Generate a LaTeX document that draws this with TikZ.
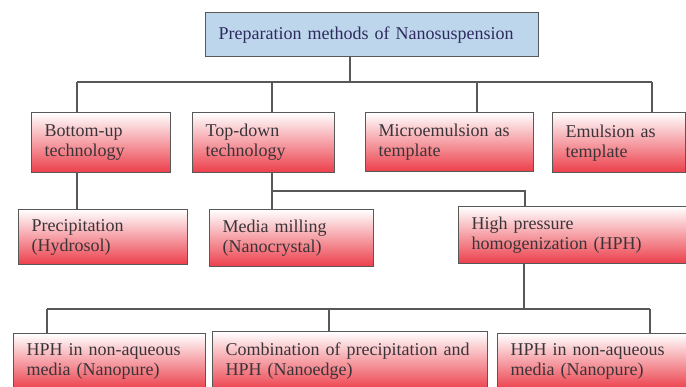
\documentclass[tikz,border=0pt]{standalone}
\usepackage{fontspec}
\setmainfont{Liberation Serif}

\definecolor{boxred}{RGB}{236,62,74}
\definecolor{rootblue}{RGB}{190,214,236}
\definecolor{linegray}{RGB}{88,88,88}
\definecolor{textgray}{RGB}{58,52,56}

\tikzset{
  methodbox/.style={rectangle, draw=linegray, line width=1.4pt, anchor=north west,
    align=left, inner xsep=13pt, inner ysep=0pt, text=textgray,
    font=\fontsize{18}{20}\selectfont,
    top color=white, middle color=boxred!22!white, bottom color=boxred},
  rootbox/.style={methodbox, fill=rootblue, top color=rootblue, bottom color=rootblue,
    middle color=rootblue, text=textgray!80!blue},
  link/.style={draw=linegray, line width=1.3pt}
}

\begin{document}
\begin{tikzpicture}[x=1pt, y=-1pt]
  \useasboundingbox (0,0) rectangle (686,387);
  \clip (0,0) rectangle (686,387);

  % top level
  \node[rootbox, text width=307pt, minimum height=44pt] (root) at (205,12)
    {Preparation methods of Nanosuspension};

  % second level
  \node[methodbox, text width=113pt, minimum height=60pt] (bu) at (31,112)
    {Bottom-up\\technology};
  \node[methodbox, text width=116pt, minimum height=60pt] (td) at (192,112)
    {Top-down\\technology};
  \node[methodbox, text width=142pt, minimum height=59pt] (me) at (365,112)
    {Microemulsion as\\template};
  \node[methodbox, text width=107pt, minimum height=60pt] (em) at (552,112)
    {Emulsion as\\template};

  % third level
  \node[methodbox, text width=143pt, minimum height=55pt] (pr) at (18,209)
    {Precipitation\\(Hydrosol)};
  \node[methodbox, text width=138pt, minimum height=57pt] (mm) at (209,209)
    {Media milling\\(Nanocrystal)};
  \node[methodbox, text width=206pt, minimum height=57pt] (hph) at (458,206)
    {High pressure\\homogenization (HPH)};

  % fourth level
  \node[methodbox, text width=166pt, minimum height=56pt] (n1) at (13,333)
    {HPH in non-aqueous\\media (Nanopure)};
  \node[methodbox, text width=249pt, minimum height=59pt] (n2) at (212,331)
    {Combination of precipitation and\\HPH (Nanoedge)};
  \node[methodbox, text width=167pt, minimum height=56pt] (n3) at (497,333)
    {HPH in non-aqueous\\media (Nanopure)};

  % bus points
  \coordinate (t0) at (350,82);
  \coordinate (t1) at (77,82);
  \coordinate (t2) at (272,82);
  \coordinate (t3) at (477,82);
  \coordinate (t4) at (652,82);
  \coordinate (m1) at (272,191);
  \coordinate (m2) at (525,191);
  \coordinate (h0) at (524,309);
  \coordinate (h1) at (47,309);
  \coordinate (h2) at (329,309);
  \coordinate (h3) at (650,309);

  \draw[link] (root.south -| t0) -- (t0);
  \draw[link] (t1) -- (t4);
  \foreach \b/\t in {bu/t1, td/t2, me/t3, em/t4}
    \draw[link] (\t) -- (\b.north -| \t);

  \draw[link] (bu.south -| t1) -- (pr.north -| t1);
  \draw[link] (td.south -| m1) -- (mm.north -| m1);
  \draw[link] (m1) -- (m2) -- (hph.north -| m2);

  \draw[link] (hph.south -| h0) -- (h0);
  \draw[link] (h1) -- (h3);
  \foreach \b/\t in {n1/h1, n2/h2, n3/h3}
    \draw[link] (\t) -- (\b.north -| \t);
\end{tikzpicture}
\end{document}
